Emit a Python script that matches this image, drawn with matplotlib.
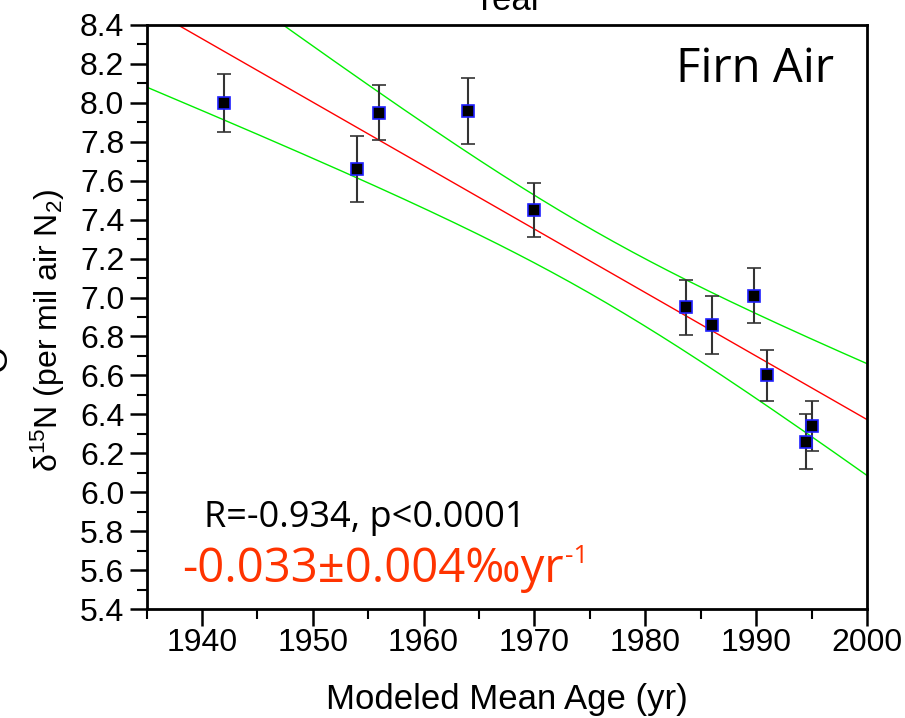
import numpy as np
import matplotlib
matplotlib.use("Agg")
import matplotlib.pyplot as plt
from matplotlib.ticker import MultipleLocator

plt.rcParams["font.family"] = ["Liberation Sans", "DejaVu Sans"]
plt.rcParams["mathtext.default"] = "regular"

# firn air samples: modeled mean age vs d15N
age = [1942.0, 1954.0, 1956.0, 1964.0, 1970.0, 1983.7, 1986.0, 1989.8, 1991.0, 1994.5, 1995.0]
d15n = [8.00, 7.66, 7.95, 7.96, 7.45, 6.95, 6.86, 7.01, 6.60, 6.26, 6.34]
d15n_err = [0.15, 0.17, 0.14, 0.17, 0.14, 0.14, 0.15, 0.14, 0.13, 0.14, 0.13]

x = np.array(age)
y = np.array(d15n)

# linear fit with 95% confidence band of the mean
slope, intercept = np.polyfit(x, y, 1)
n = len(x)
resid = y - (slope * x + intercept)
s = np.sqrt(np.sum(resid ** 2) / (n - 2))
sxx = np.sum((x - x.mean()) ** 2)
t95 = 2.262  # t(0.975, df=9)
xs = np.linspace(1935, 2000, 200)
fit = slope * xs + intercept
half = t95 * s * np.sqrt(1.0 / n + (xs - x.mean()) ** 2 / sxx)

fig = plt.figure(figsize=(9.05, 7.18), dpi=100)
ax = fig.add_axes([0.1619, 0.1518, 0.7961, 0.8134])

ax.plot(xs, fit, color="red", lw=1.0, zorder=2)
ax.plot(xs, fit + half, color="#00ee00", lw=1.0, zorder=2)
ax.plot(xs, fit - half, color="#00ee00", lw=1.0, zorder=2)
ax.errorbar(x, y, yerr=d15n_err, fmt="s", color="black", ecolor="#333333",
            elinewidth=1.5, capsize=5, capthick=1.5, ms=9, mfc="black",
            mec="#2020ff", mew=1.2, zorder=3)

ax.set_xlim(1935, 2000)
ax.set_ylim(5.4, 8.4)
ax.xaxis.set_major_locator(MultipleLocator(10))
ax.xaxis.set_minor_locator(MultipleLocator(5))
ax.yaxis.set_major_locator(MultipleLocator(0.2))
ax.yaxis.set_minor_locator(MultipleLocator(0.1))
ax.yaxis.set_major_formatter(matplotlib.ticker.FormatStrFormatter("%.1f"))
ax.tick_params(which="major", direction="out", length=12, width=1.8, labelsize=23, pad=4)
ax.tick_params(axis="x", which="major", pad=2)
ax.tick_params(which="minor", direction="out", length=7, width=1.5)
for sp in ax.spines.values():
    sp.set_linewidth(2)

ax.text(0.5, -0.155, "Modeled Mean Age (yr)", transform=ax.transAxes,
        ha="center", va="center", fontsize=25)
ax.text(-0.137, 0.478, r"$\delta^{15}$N (per mil air N$_2$)", transform=ax.transAxes,
        ha="center", va="center", rotation=90, fontsize=23)

# labels of neighbouring panels, cut by the figure edge
fig.text(507 / 905, 1 - 10 / 718, "Year", ha="center", va="baseline", fontsize=25)
fig.text(-3 / 905, 1 - 359 / 718, "O", ha="center", va="center", rotation=90, fontsize=25)

ax.text(0.845, 0.925, "Firn Air", transform=ax.transAxes, ha="center", va="center",
        fontsize=34, family=["Open Sans", "DejaVu Sans"])
ax.text(0.08, 0.155, "R=-0.934, p<0.0001", transform=ax.transAxes, ha="left", va="center",
        fontsize=26, family=["Open Sans", "DejaVu Sans"])
ax.text(0.05, 0.068, "-0.033\u00b10.004\u2030yr", transform=ax.transAxes,
        ha="left", va="center", fontsize=34, color="#ff3300",
        family=["Open Sans", "DejaVu Sans"])
ax.text(0.581, 0.09, "-1", transform=ax.transAxes,
        ha="left", va="center", fontsize=19, color="#ff3300",
        family=["Open Sans", "DejaVu Sans"])

fig.savefig("out.png", dpi=100)
